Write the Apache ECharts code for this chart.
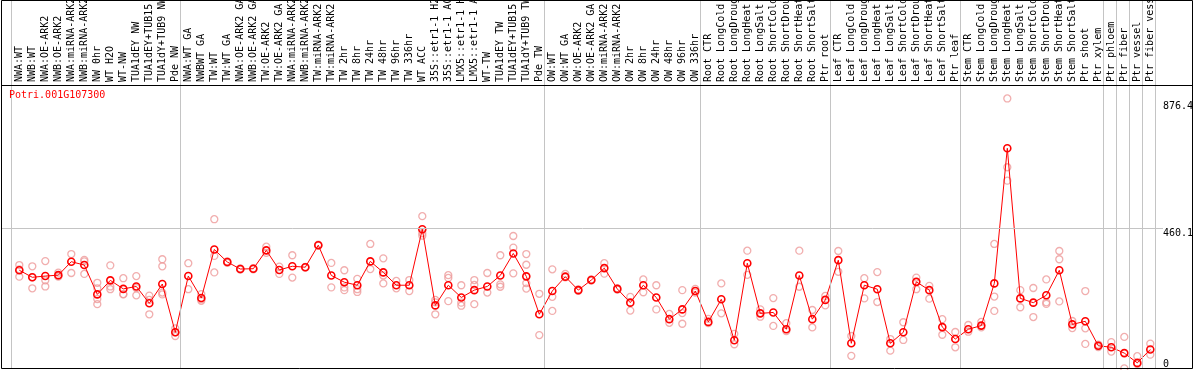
<!DOCTYPE html>
<html><head><meta charset="utf-8">
<script src="https://cdn.jsdelivr.net/npm/echarts@6/dist/echarts.min.js"></script>
<style>html,body{margin:0;padding:0;background:#fff}#c{width:1194px;height:370px}</style>
</head><body><div id="c"></div>
<script>
const geneId = 'Potri.001G107300';

const categories = [
  'NWA:WT','NWB:WT','NWA:OE-ARK2','NWB:OE-ARK2','NWA:miRNA-ARK2','NWB:miRNA-ARK2','NW 0hr','WT H2O','WT-NW','TUA1dEY NW','TUA1dEY+TUB15 NW','TUA1dY+TUB9 NW','Pde NW',
  'NWA:WT GA','NWBWT GA','TW:WT','TW:WT GA','NWA:OE-ARK2 GA','NWB:OE-ARK2 GA','TW:OE-ARK2','TW:OE-ARK2 GA','NWA:miRNA-ARK2 GA','NWB:miRNA-ARK2 GA','TW:miRNA-ARK2','TW:miRNA-ARK2 GA',
  'TW 2hr','TW 8hr','TW 24hr','TW 48hr','TW 96hr','TW 336hr','WT ACC','35S::etr1-1 H2O','35S::etr1-1 ACC','LMX5::etr1-1 H2O','LMX5::etr1-1 ACC','WT-TW','TUA1dEY TW','TUA1dEY+TUB15 TW','TUA1dY+TUB9 TW','Pde TW',
  'OW:WT','OW:WT GA','OW:OE-ARK2','OW:OE-ARK2 GA','OW:miRNA-ARK2','OW:miRNA-ARK2 GA','OW 2hr','OW 8hr','OW 24hr','OW 48hr','OW 96hr','OW 336hr',
  'Root CTR','Root LongCold','Root LongDrought','Root LongHeat','Root LongSalt','Root ShortCold','Root ShortDrought','Root ShortHeat','Root ShortSalt','Ptr root',
  'Leaf CTR','Leaf LongCold','Leaf LongDrought','Leaf LongHeat','Leaf LongSalt','Leaf ShortCold','Leaf ShortDrought','Leaf ShortHeat','Leaf ShortSalt','Ptr leaf',
  'Stem CTR','Stem LongCold','Stem LongDrought','Stem LongHeat','Stem LongSalt','Stem ShortCold','Stem ShortDrought','Stem ShortHeat','Stem ShortSalt','Ptr shoot','Ptr xylem',
  'Ptr phloem','Ptr fiber','Ptr vessel','Ptr fiber vessel'
];

const groupSizes = [13, 28, 12, 10, 10, 11, 1, 1, 1, 1];

const means = [
  323,300,304,307,351,340,244,290,262,270,215,278,120,
  304,232,391,350,327,328,388,324,336,333,405,306,284,274,352,316,274,274,457,208,274,234,258,270,306,378,303,179,
  255,302,258,291,330,262,217,274,234,163,195,255,
  154,228,94,346,182,185,130,306,163,226,
  356,84,274,261,84,120,285,258,137,98,
  130,142,280,722,231,217,241,323,146,156,76,
  71,52,20,64
];

const replicates = [
  [340,302,326],[336,264,300],[353,270,290],[315,302,305],[376,314],[357,311,352],[282,264,229,212],[339,261,270],[297,244,245],[304,241,265],[240,179,226],[359,336,250,244],[133,108,120],
  [346,261],[228,223,245],[490,370,316],[352,347],[329,325],[330,326],[400,380],[335,311],[372,299],[334,332],[407,404],[347,267],[323,267,258],[295,261,252],[409,327],[362,280,306],[288,264],
  [291,255],[500,444,436],[226,179,218],[307,298,222],[274,217,207],[291,275,212],[314,250],[372,277,269],[435,397,313],[376,341,281,263],[246,111],
  [326,236,190],[311,300],[260,256],[293,289],[346,312],[264,260],[236,191],[293,251],[274,195],[180,151],[258,183,148],[262,250],
  [164,150],[280,182],[115,81],[387,308],[195,171],[232,141],[150,124],[387,269],[193,136],[239,208],
  [386,318],[108,43],[297,231],[317,219],[98,60],[153,95],[299,261],[272,230],[163,112],[121,71],
  [144,122],[154,136],[409,237,190],[885,660,616],[258,202],[265,170],[293,218,213],[386,359,221],[157,134],[255,133,82],[75,72,80],
  [88,57],[105,2],[42,16],[83,47]
];

const yTickLabels = [460.1, 876.4];
const yZeroLabel = [0];
const refLineValue = 460.1;

const FONT = '"DejaVu Sans Mono", "Liberation Mono", monospace';
const Y_MAX = 1207;
const X_MIN = -1.3308, X_MAX = 87.977;

const repData = [];
replicates.forEach((arr, i) => arr.forEach(v => repData.push([i, v])));
const meanData = means.map((v, i) => [i, v]);
const breaks = [];
let acc = 0;
breaks.push(acc - 0.62);
groupSizes.forEach(n => { acc += n; breaks.push(acc - 0.62); });

const chart = echarts.init(document.getElementById('c'), null, {renderer: 'canvas'});
const labelBase = {fontFamily: FONT, fontSize: 10, color: '#000'};
chart.setOption({
  animation: false,
  backgroundColor: '#fff',
  title: {text: geneId, left: 9, top: 90, padding: 0,
    textStyle: {color: '#ff0000', fontFamily: FONT, fontSize: 10, fontWeight: 'normal'}},
  grid: {left: 2, right: 31, top: 0, bottom: 1, containLabel: false, outerBoundsMode: 'none'},
  xAxis: [{
    type: 'value', min: X_MIN, max: X_MAX, position: 'top', offset: -85,
    axisLine: {show: false, onZero: false}, axisTick: {show: false}, splitLine: {show: false},
    axisLabel: Object.assign({}, labelBase, {
      customValues: categories.map((_, i) => i),
      formatter: v => categories[Math.round(v)] || '',
      rotate: -90, margin: 3, align: 'left', verticalAlign: 'middle'
    })
  }],
  yAxis: [
    {type: 'value', min: 0, max: Y_MAX, position: 'right',
     axisLine: {show: false, onZero: false}, axisTick: {show: false}, splitLine: {show: false},
     axisLabel: Object.assign({}, labelBase, {customValues: yTickLabels, verticalAlign: 'top', align: 'left', margin: 0,
       formatter: v => String(v)})},
    {type: 'value', min: 0, max: Y_MAX, position: 'right',
     axisLine: {show: false, onZero: false}, axisTick: {show: false}, splitLine: {show: false},
     axisLabel: Object.assign({}, labelBase, {customValues: yZeroLabel, verticalAlign: 'bottom', align: 'left', margin: 0,
       formatter: v => String(v)})}
  ],
  series: [
    {
      type: 'scatter', data: repData, symbol: 'circle', symbolSize: 7, z: 1, silent: true,
      itemStyle: {color: 'rgba(0,0,0,0)', borderColor: '#ee9a9a', borderWidth: 1.3},
      markLine: {
        silent: true, symbol: ['none', 'none'], label: {show: false}, animation: false,
        lineStyle: {color: '#c4c4c4', type: 'solid', width: 1},
        emphasis: {disabled: true},
        data: breaks.map(b => ({xAxis: b})).concat([{yAxis: refLineValue}])
      }
    },
    {
      type: 'line', data: meanData, symbol: 'circle', symbolSize: 7, showAllSymbol: true, z: 3, silent: true,
      lineStyle: {color: '#ff0000', width: 1},
      itemStyle: {color: 'rgba(0,0,0,0)', borderColor: '#ff0000', borderWidth: 1.6}
    }
  ],
  graphic: [
    {type: 'rect', silent: true, z: 100, shape: {x: 1.5, y: 0.5, width: 1191, height: 368},
     style: {fill: null, stroke: '#000', lineWidth: 1}},
    {type: 'line', silent: true, z: 100, shape: {x1: 1, y1: 85.5, x2: 1193, y2: 85.5},
     style: {stroke: '#000', lineWidth: 1}}
  ]
});
</script>
</body></html>
